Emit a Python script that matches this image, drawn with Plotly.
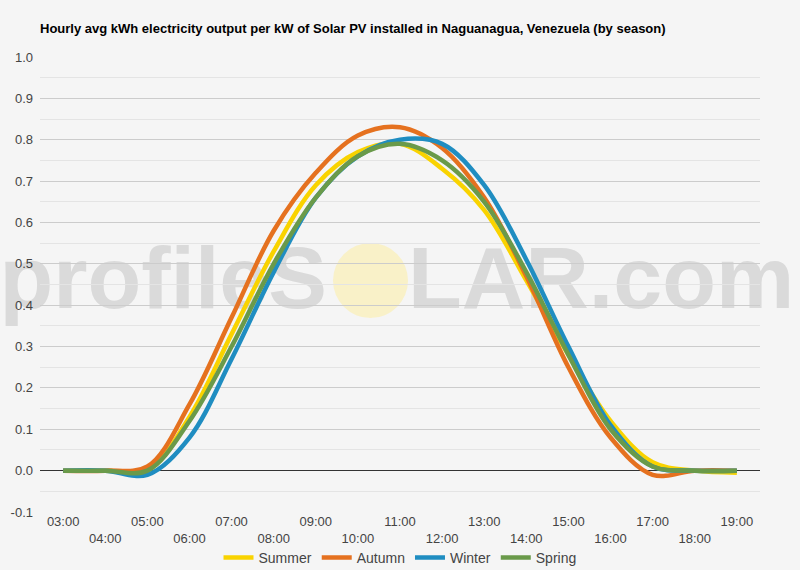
import plotly.graph_objects as go

hours = ["03:00", "04:00", "05:00", "06:00", "07:00", "08:00", "09:00", "10:00", "11:00",
         "12:00", "13:00", "14:00", "15:00", "16:00", "17:00", "18:00", "19:00"]
summer = [0.0, 0.0, 0.0, 0.13, 0.33, 0.53, 0.69, 0.77, 0.79, 0.73, 0.63, 0.46, 0.28, 0.12, 0.02, 0.0, -0.005]
autumn = [0.0, 0.0, 0.01, 0.16, 0.37, 0.58, 0.72, 0.81, 0.83, 0.78, 0.66, 0.47, 0.25, 0.08, -0.01, 0.0, 0.0]
winter = [0.0, 0.0, -0.01, 0.08, 0.27, 0.48, 0.66, 0.76, 0.80, 0.79, 0.69, 0.51, 0.30, 0.11, 0.01, 0.0, 0.0]
spring = [0.0, 0.0, 0.0, 0.12, 0.30, 0.50, 0.66, 0.76, 0.79, 0.75, 0.65, 0.48, 0.28, 0.10, 0.01, 0.0, 0.0]

series = [("Summer", summer, "#f9d300"), ("Autumn", autumn, "#e5711f"),
          ("Winter", winter, "#1f8dc1"), ("Spring", spring, "#6a9a4a")]

idx = list(range(len(hours)))
ticktext = [h if i % 2 == 0 else "<br>" + h for i, h in enumerate(hours)]

fig = go.Figure()
for name, vals, col in series:
    fig.add_trace(go.Scatter(x=idx, y=vals, name=name, mode="lines",
                             line=dict(color=col, width=4.5, shape="spline", smoothing=1.0),
                             hoverinfo="skip"))

font = "Liberation Sans, Arial, sans-serif"
fig.update_layout(
    width=800, height=570,
    paper_bgcolor="#f5f5f5", plot_bgcolor="#f5f5f5",
    margin=dict(l=40, r=40, t=57, b=58, autoexpand=False),
    font=dict(family=font, size=13, color="#444"),
    title=dict(text="<b>Hourly avg kWh electricity output per kW of Solar PV installed in Naguanagua, Venezuela (by season)</b>",
               x=40/800, xanchor="left", y=1-28/570, yanchor="middle",
               font=dict(family=font, size=13, color="#000")),
    showlegend=True,
    legend=dict(orientation="h", x=0.5, xanchor="center", yref="container", y=12/570, yanchor="middle",
                font=dict(family=font, size=14, color="#444"), itemwidth=30,
                bgcolor="rgba(0,0,0,0)", tracegroupgap=0),
    xaxis=dict(range=[-0.55, 16.55], tickmode="array", tickvals=idx, ticktext=ticktext,
               showgrid=False, zeroline=False, ticks="", showline=False, automargin=False,
               tickfont=dict(size=13, color="#444")),
    yaxis=dict(range=[-0.1, 1.0], tickmode="array", automargin=False,
               tickvals=[round(-0.1 + 0.1*i, 1) for i in range(12)],
               ticktext=["%.1f" % (-0.1 + 0.1*i) for i in range(12)],
               showgrid=True, gridcolor="#cccccc", gridwidth=1,
               zeroline=True, zerolinecolor="#333", zerolinewidth=1.2,
               minor=dict(tickmode="array", tickvals=[round(-0.05 + 0.1*i, 2) for i in range(11)],
                          showgrid=True, gridcolor="#e4e4e4", gridwidth=1),
               tickfont=dict(size=13, color="#444"), ticklabelstandoff=6),
)

# watermark (below gridlines), paper coordinates
wm_font = dict(family=font, size=88, color="#dadada", weight="bold")
fig.add_shape(type="circle", xref="paper", yref="paper",
              x0=(333-40)/720, x1=(408-40)/720, y0=(512-318)/455, y1=(512-243)/455,
              fillcolor="rgba(252,238,170,0.6)", line=dict(width=0), layer="below")
fig.add_shape(type="rect", xref="paper", yref="paper", x0=-0.3, x1=(330-40)/720,
              y0=0.48, y1=0.588, line=dict(width=0), fillcolor="rgba(0,0,0,0)", layer="below",
              label=dict(text="profileS", font=wm_font, textposition="middle right", padding=0))
fig.add_shape(type="rect", xref="paper", yref="paper", x0=(405-40)/720, x1=1.3,
              y0=0.48, y1=0.588, line=dict(width=0), fillcolor="rgba(0,0,0,0)", layer="below",
              label=dict(text="LAR.com", font=wm_font, textposition="middle left", padding=0))

fig.write_html("out.html")
